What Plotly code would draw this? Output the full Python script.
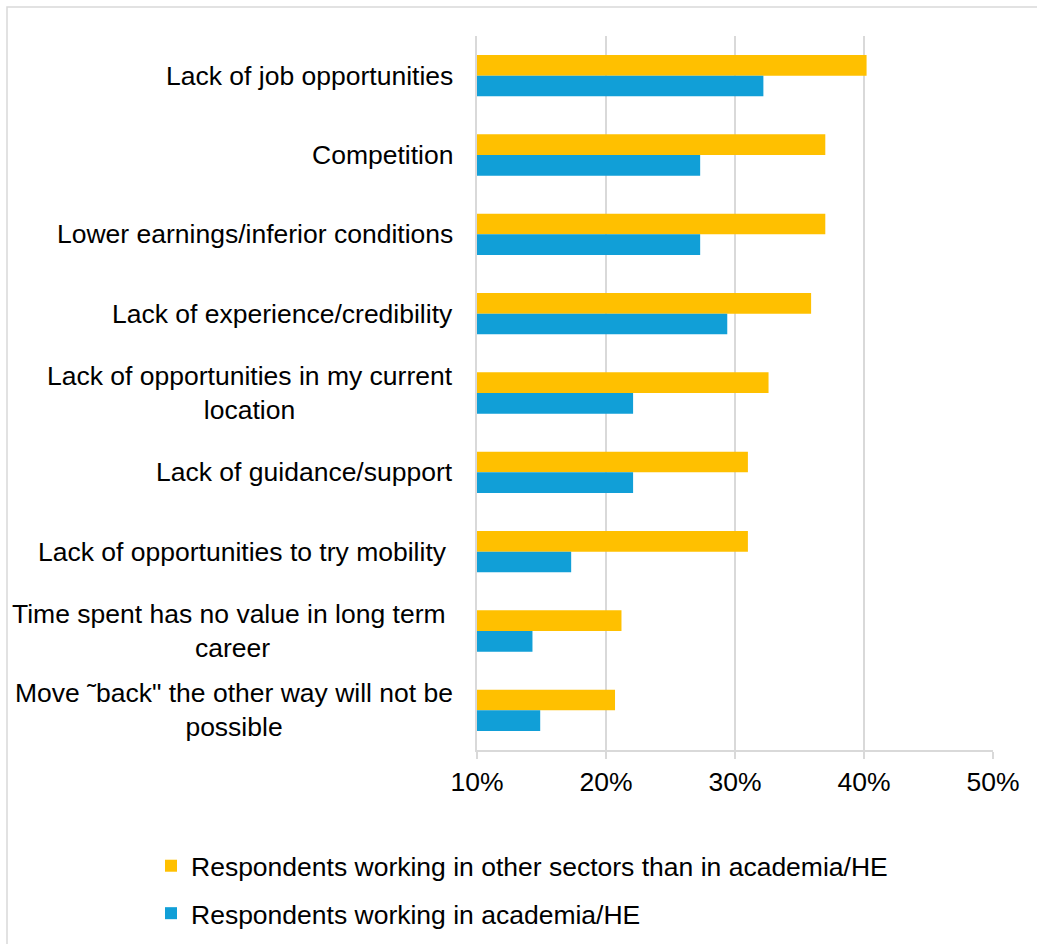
import plotly.graph_objects as go

# Obstacles to moving between sectors, share of respondents
categories = [
    "Lack of job opportunities",
    "Competition",
    "Lower earnings/inferior conditions",
    "Lack of experience/credibility",
    "Lack of opportunities in my current<br>location",
    "Lack of guidance/support",
    "Lack of opportunities to try mobility\u00a0",
    "Time spent has no value in long term\u00a0<br>career",
    "Move \u02dcback\" the other way will not be<br>possible",
]
other_sectors = [0.402, 0.370, 0.370, 0.359, 0.326, 0.310, 0.310, 0.212, 0.207]
academia = [0.322, 0.273, 0.273, 0.294, 0.221, 0.221, 0.173, 0.143, 0.149]
series_names = [
    "Respondents working in other sectors than in academia/HE",
    "Respondents working in academia/HE",
]
x_ticks = [0.1, 0.2, 0.3, 0.4, 0.5]
x_tick_labels = ["10%", "20%", "30%", "40%", "50%"]
AXIS_MIN = 0.1

ORANGE = "#FFC000"
BLUE = "#119FD7"
GRID = "#D9D9D9"
FONT = "Liberation Sans, Arial, sans-serif"
FS = 26.5

fig = go.Figure()
# bars start at the 10% axis minimum
fig.add_trace(go.Bar(
    y=categories, x=[v - AXIS_MIN for v in other_sectors], base=AXIS_MIN,
    orientation="h", name=series_names[0],
    marker=dict(color=ORANGE, line=dict(width=0)), legendgroup="a",
))
fig.add_trace(go.Bar(
    y=categories, x=[v - AXIS_MIN for v in academia], base=AXIS_MIN,
    orientation="h", name=series_names[1],
    marker=dict(color=BLUE, line=dict(width=0)), legendgroup="b",
))

# category labels, right-aligned block with centred lines
for cat in categories:
    fig.add_annotation(
        x=0, xref="paper", y=cat, yref="y", xanchor="right", yanchor="middle",
        xshift=-22, text=cat, showarrow=False, align="center",
        font=dict(family=FONT, size=FS, color="#000000"),
    )

# outer chart frame
fig.add_shape(
    type="rect", xref="paper", yref="paper",
    x0=(7 - 477) / 516, x1=1.5, y0=-1.0, y1=(750 - 7) / 714,
    line=dict(color=GRID, width=1.5), fillcolor="rgba(0,0,0,0)", layer="below",
)

fig.update_layout(
    width=1037, height=944,
    margin=dict(l=477, r=44, t=36, b=194, autoexpand=False),
    paper_bgcolor="white", plot_bgcolor="white",
    barmode="group", bargap=0.48, bargroupgap=0,
    font=dict(family=FONT, size=FS, color="#000000"),
    showlegend=True,
    legend=dict(
        xref="container", yref="container",
        x=151 / 1037, y=1 - 842 / 944, xanchor="left", yanchor="top",
        orientation="v", traceorder="grouped", tracegroupgap=10,
        font=dict(family=FONT, size=FS, color="#000000"),
        bgcolor="rgba(0,0,0,0)",
    ),
    xaxis=dict(
        range=[0.1, 0.5], tickvals=x_ticks, ticktext=x_tick_labels,
        tickangle=0, automargin=False,
        showgrid=True, gridcolor=GRID, gridwidth=1.5,
        showline=True, linecolor=GRID, linewidth=1.5,
        ticks="outside", ticklen=7, tickcolor=GRID, tickwidth=1.5,
        zeroline=False, fixedrange=True,
        tickfont=dict(family=FONT, size=FS, color="#000000"),
    ),
    yaxis=dict(
        autorange="reversed", showticklabels=False, showgrid=False,
        zeroline=False, showline=True, linecolor=GRID, linewidth=1.5,
        ticks="", automargin=False,
    ),
)

fig.write_html("out.html")
